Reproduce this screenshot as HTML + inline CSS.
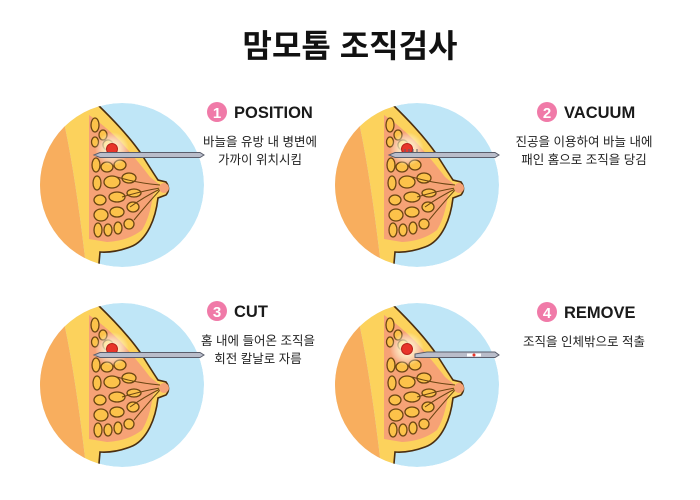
<!DOCTYPE html>
<html><head><meta charset="utf-8"><style>
html,body{margin:0;padding:0;background:#fff;width:700px;height:500px;overflow:hidden}
svg{display:block}
.t{font-family:"Liberation Sans","Noto Sans CJK KR",sans-serif}
</style></head><body>
<svg width="700" height="500" viewBox="0 0 700 500" xmlns="http://www.w3.org/2000/svg">
<defs>
<clipPath id="cc"><circle cx="0" cy="0" r="82"/></clipPath>
<radialGradient id="glow"><stop offset="0" stop-color="#fff" stop-opacity="0.95"/><stop offset="0.5" stop-color="#fff7d0" stop-opacity="0.7"/><stop offset="1" stop-color="#fff" stop-opacity="0"/></radialGradient>
<g id="breast">
<g clip-path="url(#cc)">
<circle r="82" fill="#bfe6f7"/>
<path d="M-90,-90 L-57,-90 L-57,-58 Q-45,0 -35,90 L-90,90Z" fill="#f8ae5e"/>
<path d="M-57,-90 L-24,-90 L-24,-80 Q5,-52 20,-30 Q30,-14 36,-5 L44,-3 Q49,4 44,10 L36,13 Q34,30 28,42 Q20,58 8,62 Q-8,68 -22,67 L-24,90 L-35,90 Q-45,0 -57,-58Z" fill="#fcd25c"/>
<path d="M-33,-70 Q-18,-60 -2,-44 Q16,-24 28,-8 L38,0 L31,10 Q28,32 20,45 Q6,56 -15,57 L-33,54 Z" fill="#f6a276"/>
<g fill="#fcc24a" stroke="#6b4512" stroke-width="1.3">
<ellipse cx="-27" cy="-60" rx="4" ry="7"/>
<ellipse cx="-19" cy="-50" rx="4" ry="5"/>
<ellipse cx="-27" cy="-43" rx="3.5" ry="5"/>
<ellipse cx="-14" cy="-40" rx="5" ry="5"/>
<ellipse cx="-26" cy="-20" rx="4" ry="7"/>
<ellipse cx="-15" cy="-18" rx="6" ry="5"/>
<ellipse cx="-2" cy="-20" rx="6" ry="5"/>
<ellipse cx="-25" cy="-2" rx="4" ry="7"/>
<ellipse cx="-10" cy="-3" rx="8" ry="6"/>
<ellipse cx="7" cy="-7" rx="7" ry="5"/>
<ellipse cx="-22" cy="15" rx="6" ry="5"/>
<ellipse cx="-5" cy="12" rx="8" ry="5"/>
<ellipse cx="12" cy="8" rx="7" ry="4"/>
<ellipse cx="-21" cy="30" rx="7" ry="6"/>
<ellipse cx="-5" cy="27" rx="7" ry="5"/>
<ellipse cx="11" cy="22" rx="6" ry="5"/>
<ellipse cx="-24" cy="45" rx="4" ry="7"/>
<ellipse cx="-14" cy="45" rx="4" ry="6"/>
<ellipse cx="-4" cy="43" rx="4" ry="6"/>
<ellipse cx="7" cy="39" rx="5" ry="5"/>
</g>
<g stroke="#6b4512" stroke-width="1" fill="none">
<path d="M-5,-8 Q15,-2 38,0"/><path d="M0,12 Q20,6 38,3"/><path d="M8,22 Q22,12 38,4"/><path d="M12,35 Q26,18 38,5"/>
</g>
<path d="M-24,-80 Q5,-52 20,-30 Q30,-14 36,-5 L44,-3 Q49,4 44,10 L36,13 Q34,30 28,42 Q20,58 8,62 Q-8,68 -22,67 L-24,90" fill="none" stroke="#4a2e10" stroke-width="1.6"/>
<circle cx="42" cy="3" r="5" fill="#f6a276"/>
</g>
</g>
<g id="tumor"><circle cx="-10" cy="-36" r="17" fill="url(#glow)"/><circle cx="-10" cy="-36" r="5.5" fill="#e8352a" stroke="#b8231a" stroke-width="1"/></g>
<g id="needle"><path d="M-28,-30 L-22,-32.5 L78,-32.5 L82,-30 L78,-27.5 L-22,-27.5Z" fill="#b9bdca" stroke="#5a5e6c" stroke-width="1"/></g>
</defs>

<text x="350" y="57" text-anchor="middle" class="t" font-size="32" font-weight="bold" fill="#111">맘모톰 조직검사</text>

<g transform="translate(122,185)"><use href="#breast"/><use href="#tumor"/><use href="#needle"/></g>
<g transform="translate(417,185)"><use href="#breast"/><use href="#tumor"/><use href="#needle"/>
<g stroke="#5a5e6c" stroke-width="1"><line x1="-12" y1="-33" x2="-12" y2="-36"/><line x1="-8" y1="-33" x2="-8" y2="-36"/><line x1="-4" y1="-33" x2="-4" y2="-36"/><line x1="0" y1="-33" x2="0" y2="-36"/></g></g>
<g transform="translate(122,385)"><use href="#breast"/><use href="#tumor"/><use href="#needle"/></g>
<g transform="translate(417,385)"><use href="#breast"/><use href="#tumor"/>
<path d="M-2,-31 L10,-33 L78,-33 L82,-30 L78,-27.5 L-2,-27.5Z" fill="#b9bdca" stroke="#5a5e6c" stroke-width="1"/>
<rect x="50" y="-31.5" width="14" height="3" fill="#fff"/><circle cx="57" cy="-30" r="1.5" fill="#e8352a"/></g>

<g>
<circle cx="217" cy="112" r="10" fill="#f07aa8"/><text x="217" y="118" text-anchor="middle" font-size="15" font-weight="bold" fill="#fff" class="t">1</text>
<text x="234" y="118" font-size="16.5" font-weight="bold" fill="#1a1a1a" class="t">POSITION</text>
<text x="260" y="146" text-anchor="middle" font-size="12.5" fill="#222" class="t">바늘을 유방 내 병변에</text>
<text x="260" y="164" text-anchor="middle" font-size="12.5" fill="#222" class="t">가까이 위치시킴</text>

<circle cx="547" cy="112" r="10" fill="#f07aa8"/><text x="547" y="118" text-anchor="middle" font-size="15" font-weight="bold" fill="#fff" class="t">2</text>
<text x="564" y="118" font-size="16.5" font-weight="bold" fill="#1a1a1a" class="t">VACUUM</text>
<text x="584" y="146" text-anchor="middle" font-size="12.5" fill="#222" class="t">진공을 이용하여 바늘 내에</text>
<text x="584" y="164" text-anchor="middle" font-size="12.5" fill="#222" class="t">패인 홈으로 조직을 당김</text>

<circle cx="217" cy="311" r="10" fill="#f07aa8"/><text x="217" y="317" text-anchor="middle" font-size="15" font-weight="bold" fill="#fff" class="t">3</text>
<text x="234" y="317" font-size="16.5" font-weight="bold" fill="#1a1a1a" class="t">CUT</text>
<text x="258" y="345" text-anchor="middle" font-size="12.5" fill="#222" class="t">홈 내에 들어온 조직을</text>
<text x="258" y="363" text-anchor="middle" font-size="12.5" fill="#222" class="t">회전 칼날로 자름</text>

<circle cx="547" cy="312" r="10" fill="#f07aa8"/><text x="547" y="318" text-anchor="middle" font-size="15" font-weight="bold" fill="#fff" class="t">4</text>
<text x="564" y="318" font-size="16.5" font-weight="bold" fill="#1a1a1a" class="t">REMOVE</text>
<text x="584" y="346" text-anchor="middle" font-size="12.5" fill="#222" class="t">조직을 인체밖으로 적출</text>
</g>
</svg>
</body></html>
